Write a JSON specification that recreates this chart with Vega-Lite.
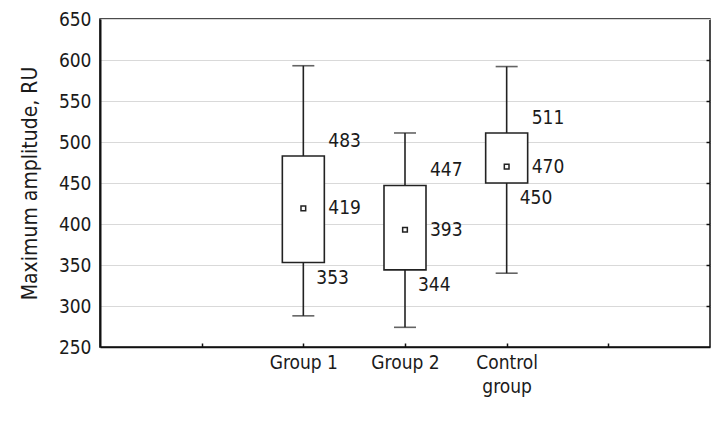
{
  "$schema": "https://vega.github.io/schema/vega-lite/v6.json",
  "width": 610,
  "height": 328,
  "autosize": {"type": "none"},
  "padding": {"left": 100, "top": 19, "right": 9, "bottom": 78},
  "background": "white",
  "config": {
    "view": {"stroke": "#111111", "strokeWidth": 1.5},
    "font": "DejaVu Sans Condensed, Roboto, sans-serif",
    "text": {"font": "DejaVu Sans Condensed, Roboto, sans-serif"},
    "axis": {"labelFont": "DejaVu Sans Condensed, Roboto, sans-serif", "titleFont": "DejaVu Sans Condensed, Roboto, sans-serif", "labelColor": "#1a1a1a", "titleColor": "#1a1a1a", "titleFontWeight": "normal"}
  },
  "data": {
    "values": [
      {"group": "Group 1", "lo": 288, "q1": 353, "med": 419, "q3": 483, "hi": 593},
      {"group": "Group 2", "lo": 274, "q1": 344, "med": 393, "q3": 447, "hi": 511},
      {"group": "Control group", "lo": 340, "q1": 450, "med": 470, "q3": 511, "hi": 592}
    ]
  },
  "encoding": {
    "x": {
      "field": "group",
      "type": "nominal",
      "scale": {"type": "point", "domain": [" ", "Group 1", "Group 2", "Control group", "  "], "padding": 1},
      "axis": {
        "title": null,
        "labelAngle": 0,
        "labelFontSize": 19,
        "labelPadding": 10,
        "tickSize": -4,
        "tickColor": "#111111",
        "tickWidth": 1.5,
        "domainColor": "#111111",
        "domainWidth": 1.5,
        "grid": false,
        "labelExpr": "datum.value == 'Control group' ? ['Control', 'group'] : datum.value",
        "labelLineHeight": 24,
        "labelBaseline": "top"
      }
    }
  },
  "layer": [
    {
      "mark": {"type": "rule", "stroke": "#222222", "strokeWidth": 1.6},
      "encoding": {
        "y": {
          "field": "lo",
          "type": "quantitative",
          "scale": {"domain": [250, 650], "nice": false, "zero": false},
          "axis": {
            "title": "Maximum amplitude, RU",
            "titleFontSize": 21,
            "titlePadding": 18,
            "labelFontSize": 19,
            "labelPadding": 9,
            "values": [250, 300, 350, 400, 450, 500, 550, 600, 650],
            "tickSize": 0,
            "domainColor": "#111111",
            "domainWidth": 2,
            "grid": true,
            "gridColor": "#d9d9d9",
            "gridWidth": 1.2
          }
        },
        "y2": {"field": "hi"}
      }
    },
    {
      "mark": {"type": "bar", "fill": "white", "stroke": "#222222", "strokeWidth": 1.6, "size": 42},
      "encoding": {
        "y": {"field": "q1", "type": "quantitative", "axis": null},
        "y2": {"field": "q3"}
      }
    },
    {
      "mark": {"type": "tick", "color": "#222222", "thickness": 1.6, "size": 22},
      "encoding": {"y": {"field": "lo", "type": "quantitative", "axis": null}}
    },
    {
      "mark": {"type": "tick", "color": "#222222", "thickness": 1.6, "size": 22},
      "encoding": {"y": {"field": "hi", "type": "quantitative", "axis": null}}
    },
    {
      "mark": {"type": "point", "shape": "square", "filled": false, "stroke": "#222222", "strokeWidth": 1.5, "size": 22, "opacity": 1},
      "encoding": {"y": {"field": "med", "type": "quantitative", "axis": null}}
    },
    {
      "mark": {"type": "text", "align": "left", "baseline": "middle", "dx": 25, "dy": -15, "fontSize": 19, "color": "#1a1a1a"},
      "encoding": {"y": {"field": "q3", "type": "quantitative", "axis": null}, "text": {"field": "q3"}}
    },
    {
      "mark": {"type": "text", "align": "left", "baseline": "middle", "dx": 25, "dy": 0, "fontSize": 19, "color": "#1a1a1a"},
      "encoding": {"y": {"field": "med", "type": "quantitative", "axis": null}, "text": {"field": "med"}}
    },
    {
      "mark": {"type": "text", "align": "left", "baseline": "middle", "dx": 13, "dy": 15, "fontSize": 19, "color": "#1a1a1a"},
      "encoding": {"y": {"field": "q1", "type": "quantitative", "axis": null}, "text": {"field": "q1"}}
    },
    {
      "mark": {"type": "rule", "opacity": 0},
      "encoding": {
        "y": {
          "field": "lo",
          "type": "quantitative",
          "axis": {"orient": "right", "title": null, "labels": false, "values": [300, 350, 400, 450, 500, 550, 600], "tickSize": -4, "tickColor": "#111111", "tickWidth": 1.5, "domain": false, "grid": false}
        }
      }
    }
  ],
  "resolve": {"axis": {"y": "independent"}}
}
